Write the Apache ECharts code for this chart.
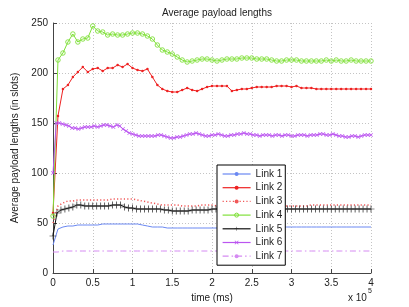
<!DOCTYPE html>
<html>
<head>
<meta charset="utf-8">
<script src="https://cdn.jsdelivr.net/npm/echarts@6/dist/echarts.min.js"></script>
<style>
html,body{margin:0;padding:0;background:#fff;}
#chart{width:409px;height:307px;}
</style>
</head>
<body>
<div id="chart"></div>
<script>
// ---- Data (time in ms, values in slots) ----
const seriesNames = ['Link 1','Link 2','Link 3','Link 4','Link 5','Link 6','Link 7'];
const xTickLabels = ['0','0.5','1','1.5','2','2.5','3','3.5','4'];
const yTickLabels = ['0','50','100','150','200','250'];

// sampling steps (ms) of each recorded series
const step6250 = 6250, step5000 = 5000, step4000 = 4000;

const link1 = [28,44,46,47,47,48,48,48,48,48,49,49,49,49,49,49,49,49,48,47,46,46,46,45,45,45,45,45,45,45,45,45,45,45,45,45,45,45,46,46,46,46,46,46,46,46,46,46,46,46,46,46,46,46,46,46,46,46,46,46,46,46,46,46,46];
const link2 = [60,157,184,188,196,201,206,201,204,205,202,205,205,208,206,209,205,203,202,204,196,188,184,182,181,181,183,185,183,182,184,186,187,187,187,187,182,183,184,184,185,186,186,186,186,187,187,187,186,187,185,185,185,184,184,184,184,184,184,184,184,184,184,184,184];
const link3 = [50,67,70,72,72,73,73,73,73,73,73,73,74,74,74,74,74,73,72,71,70,69,68,68,68,68,67,67,67,67,68,68,68,67,67,67,67,67,67,67,67,67,67,67,67,68,68,67,67,67,67,67,68,68,68,68,68,68,68,68,68,68,68,68,68];
const link4 = [57,213,220,231,239,231,234,235,247,242,241,238,239,238,238,239,240,240,239,237,234,228,223,221,219,216,213,211,212,213,214,214,213,212,213,214,214,214,215,215,215,214,214,214,213,212,212,213,213,213,212,212,212,212,212,213,212,213,212,212,213,212,212,212,212];
const link5 = [37,60,63,64,65,66,68,68,67,67,67,67,67,67,67,68,68,68,66,65,65,64,64,64,64,64,64,64,63,63,62,62,62,62,62,63,63,63,63,63,64,64,64,63,64,64,64,64,64,64,64,64,64,64,64,64,64,64,64,64,64,64,64,64,64,64,64,64,64,64,64,64,64,64,64,64,64,64,64,64,64];
const link6 = [100,150,150,149,148,147,145,145,144,145,
  146,146,146,147,146,147,148,148,147,146,
  148,147,144,142,140,139,138,137,137,137,
  137,137,137,138,138,137,136,135,135,136,
  136,137,138,139,139,140,139,138,137,137,
  138,138,139,138,137,137,138,138,139,139,
  140,139,139,138,138,137,138,138,138,137,
  138,138,137,138,138,137,137,138,138,138,
  137,138,138,138,139,139,138,138,139,138,
  137,137,136,136,137,137,136,137,138,138,138];
const link7 = [21,21,22,22,22,22,22,22,22,22,22,22,22,22,22,22,22,22,22,22,22,22,22,22,22,22,22,22,22,22,22,22,22,22,22,22,22,22,22,22,22,22,22,22,22,22,22,22,22,22,22,22,22,22,22,22,22,22,22,22,22,22,22,22,22];

function withTime(vals, step){ return vals.map((v,i)=>[i*step, v]); }

const FONT = 'Liberation Sans, Arial, Helvetica, sans-serif';
const plusPath = 'path://M4.5,0H5.5V4.5H10V5.5H5.5V10H4.5V5.5H0V4.5H4.5Z';
const xPath = 'path://M0,1.2L1.2,0L5,3.8L8.8,0L10,1.2L6.2,5L10,8.8L8.8,10L5,6.2L1.2,10L0,8.8L3.8,5Z';
const GREEN = '#80e03a';

const chart = echarts.init(document.getElementById('chart'), null, {renderer:'canvas'});
chart.setOption({
  animation:false,
  backgroundColor:'#ffffff',
  textStyle:{fontFamily:FONT},
  title:{text:'Average payload lengths', left:212, top:3, textAlign:'center',
    textStyle:{fontSize:10, fontWeight:'normal', color:'#222', fontFamily:FONT}},
  grid:{left:53, right:38, top:23, bottom:34, containLabel:false, outerBoundsMode:'none'},
  xAxis:{type:'value', min:0, max:400000, interval:50000,
    name:'time (ms)', nameLocation:'middle', nameGap:15,
    nameTextStyle:{fontSize:10, color:'#222', fontFamily:FONT},
    axisLine:{lineStyle:{color:'#444', width:1}},
    axisTick:{inside:true, length:4, lineStyle:{color:'#444'}},
    axisLabel:{fontSize:10, color:'#222', margin:5, fontFamily:FONT,
      formatter:(v)=>xTickLabels[Math.round(v/50000)]},
    splitLine:{show:true, lineStyle:{color:'#c4c4c4', type:[1,2], width:1}}},
  yAxis:{type:'value', min:0, max:250, interval:50,
    name:'Average payload lengths (in slots)', nameLocation:'middle', nameGap:25,
    nameTextStyle:{fontSize:10, color:'#222', fontFamily:FONT},
    axisLine:{show:true, lineStyle:{color:'#444', width:1}},
    axisTick:{show:true, inside:true, length:4, lineStyle:{color:'#444'}},
    axisLabel:{fontSize:10, color:'#222', margin:5, fontFamily:FONT,
      formatter:(v)=>yTickLabels[Math.round(v/50)]},
    splitLine:{show:true, lineStyle:{color:'#c4c4c4', type:[1,2], width:1}}},
  legend:{orient:'vertical', left:217, top:165, padding:[4,3,4,5], z:10,
    itemWidth:28, itemHeight:5, itemGap:3.7,
    backgroundColor:'#ffffff', borderColor:'#000', borderWidth:1, borderRadius:0,
    lineStyle:{width:1.2},
    itemStyle:{borderWidth:1},
    textStyle:{fontSize:10, color:'#222', fontFamily:FONT},
    data:seriesNames},
  graphic:[
    {type:'text', left:348, top:293, style:{text:'x 10', fontSize:10, fill:'#222', font:'10px '+FONT}},
    {type:'text', left:368, top:288, style:{text:'5', fontSize:7, fill:'#222', font:'7px '+FONT}}
  ],
  series:[
    {name:'Link 1', type:'line', data:withTime(link1, step6250), showSymbol:false, symbol:'none',
      lineStyle:{color:'#6a88f2', width:1}, itemStyle:{color:'#6a88f2'}, z:2},
    {name:'Link 2', type:'line', data:withTime(link2, step6250), symbol:'circle', symbolSize:2.5,
      lineStyle:{color:'#ee2222', width:1}, itemStyle:{color:'#ee2222', borderWidth:0}, z:3},
    {name:'Link 3', type:'line', data:withTime(link3, step6250), symbol:'none',
      lineStyle:{color:'#f05858', width:1.5, type:[1.2,2.2]}, itemStyle:{color:'#f05858'}, z:2},
    {name:'Link 4', type:'line', data:withTime(link4, step6250), symbol:'circle', symbolSize:4.5,
      lineStyle:{color:GREEN, width:1}, itemStyle:{color:'rgba(255,255,255,0)', borderColor:GREEN, borderWidth:0.9}, z:3},
    {name:'Link 5', type:'line', data:withTime(link5, step5000), symbol:plusPath, symbolSize:7,
      lineStyle:{color:'#111', width:1}, itemStyle:{color:'#222', borderWidth:0}, z:3},
    {name:'Link 6', type:'line', data:withTime(link6, step4000), symbol:xPath, symbolSize:4,
      lineStyle:{color:'#bb55f0', width:1}, itemStyle:{color:'#bb55f0', borderWidth:0}, z:3},
    {name:'Link 7', type:'line', data:withTime(link7, step6250), symbol:'none',
      lineStyle:{color:'#d58af2', width:1, type:[6,3,1.5,3]}, itemStyle:{color:'#d58af2'}, z:2}
  ]
});
</script>
</body>
</html>
